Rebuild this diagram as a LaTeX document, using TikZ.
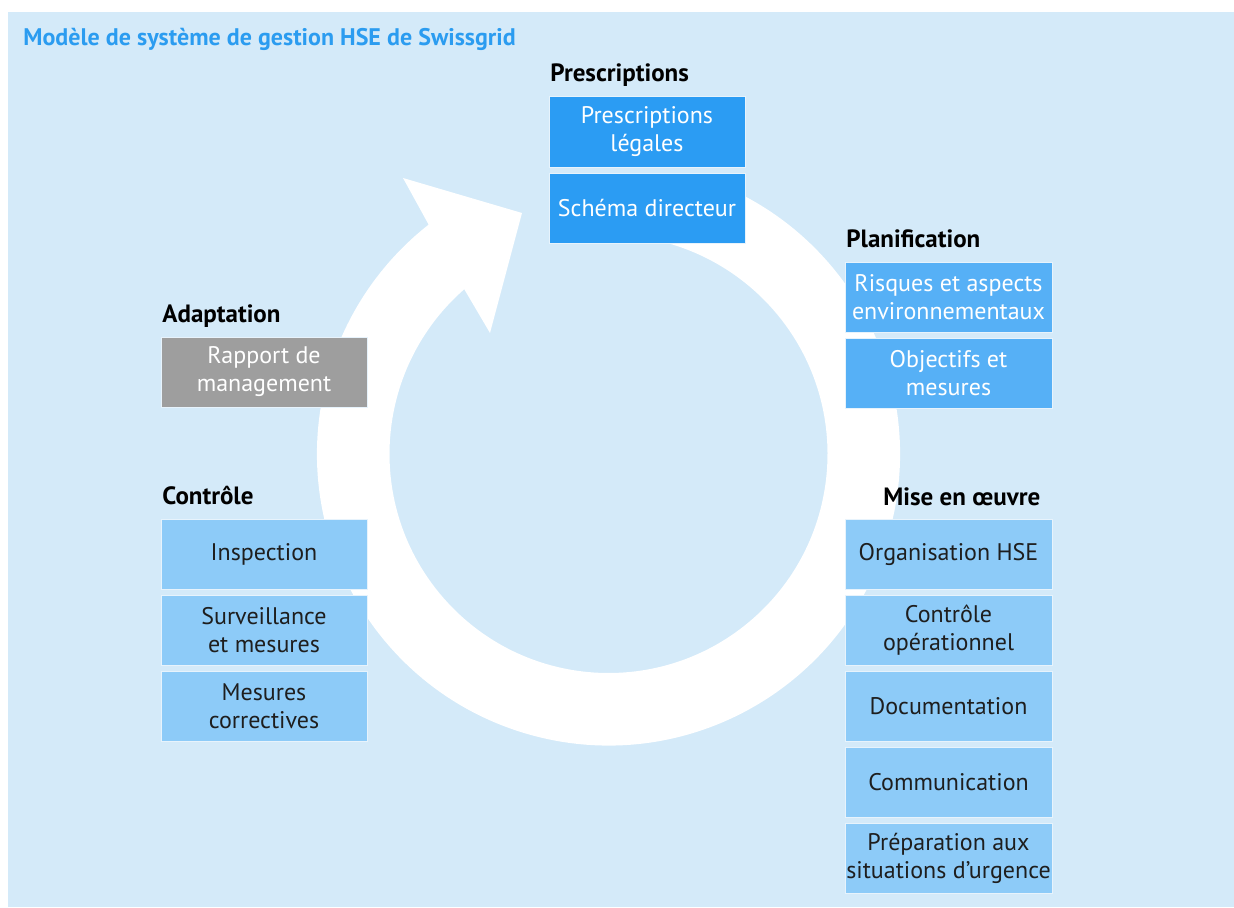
\documentclass[tikz,border=0pt]{standalone}
\usepackage{fontspec}
\setmainfont{PT Sans}
\usepackage{tikz}
\usetikzlibrary{positioning, calc}
\usepackage{xcolor}
\definecolor{bgblue}{RGB}{212,234,249}
\definecolor{titleblue}{RGB}{43,156,240}
\definecolor{boxdark}{RGB}{43,156,243}
\definecolor{boxmid}{RGB}{86,176,246}
\definecolor{boxlight}{RGB}{141,203,248}
\definecolor{boxgray}{RGB}{158,158,158}
\definecolor{textdark}{RGB}{30,30,30}

\tikzset{
  box/.style={minimum height=35pt, inner sep=0pt, outer sep=0pt, align=center, draw=white!45!bgblue, line width=0.5pt, font=\fontsize{12}{14}\selectfont},
  darkbox/.style={box, fill=boxdark, text=white, minimum width=98pt},
  midbox/.style={box, fill=boxmid, text=white, minimum width=103.5pt},
  graybox/.style={box, fill=boxgray, text=white, minimum width=103pt},
  lightbox/.style={box, fill=boxlight, text=textdark, minimum width=103.5pt},
  head/.style={anchor=base west, inner sep=0pt, font=\bfseries\fontsize{12.5}{14}\selectfont},
}

\begin{document}
\begin{tikzpicture}[x=0.5pt, y=0.5pt]
  \useasboundingbox (0,0) rectangle (1234,907);
  \fill[bgblue] (8,0) rectangle (1234,895);
  \node[anchor=base west, inner sep=0pt, text=titleblue, font=\bfseries\fontsize{12}{14}\selectfont] (title) at (23,861) {Modèle de système de gestion HSE de Swissgrid};
  % cycle arrow
  \coordinate (C) at (608.5,453);
  \fill[white] ($(C)+(74:291.5)$) arc[start angle=74, end angle=-231.9, radius=291.5]
    -- (403,729) -- (522,694) -- (490,574)
    -- ($(C)+(131.2:219)$) arc[start angle=-228.8, end angle=74, radius=219] -- cycle;
  % Prescriptions
  \node[head] (hpresc) at (550,825) {Prescriptions};
  \node[darkbox] (presc1) at (647,775) {Prescriptions\\légales};
  \node[darkbox, below=3pt of presc1] (presc2) {Schéma directeur};
  % Planification
  \node[head] (hplan) at (846,660) {Planification};
  \node[midbox] (plan1) at (948.5,609.5) {Risques et aspects\\environnementaux};
  \node[midbox, below=3pt of plan1] (plan2) {Objectifs et\\mesures};
  % Adaptation
  \node[head] (hadapt) at (162,585) {Adaptation};
  \node[graybox] (adapt1) at (264,535) {Rapport de\\management};
  % Controle
  \node[head] (hctrl) at (162,403) {Contrôle};
  \node[lightbox, minimum width=103pt] (ctrl1) at (264,353) {Inspection};
  \node[lightbox, minimum width=103pt, below=3pt of ctrl1] (ctrl2) {Surveillance\\et mesures};
  \node[lightbox, minimum width=103pt, below=3pt of ctrl2] (ctrl3) {Mesures\\correctives};
  % Mise en oeuvre
  \node[head] (hmise) at (883,402) {Mise en œuvre};
  \node[lightbox] (mise1) at (948.5,353) {Organisation HSE};
  \node[lightbox, below=3pt of mise1] (mise2) {Contrôle\\opérationnel};
  \node[lightbox, below=3pt of mise2] (mise3) {Documentation};
  \node[lightbox, below=3pt of mise3] (mise4) {Communication};
  \node[lightbox, below=3pt of mise4] (mise5) {Préparation aux\\situations d’urgence};
\end{tikzpicture}
\end{document}
